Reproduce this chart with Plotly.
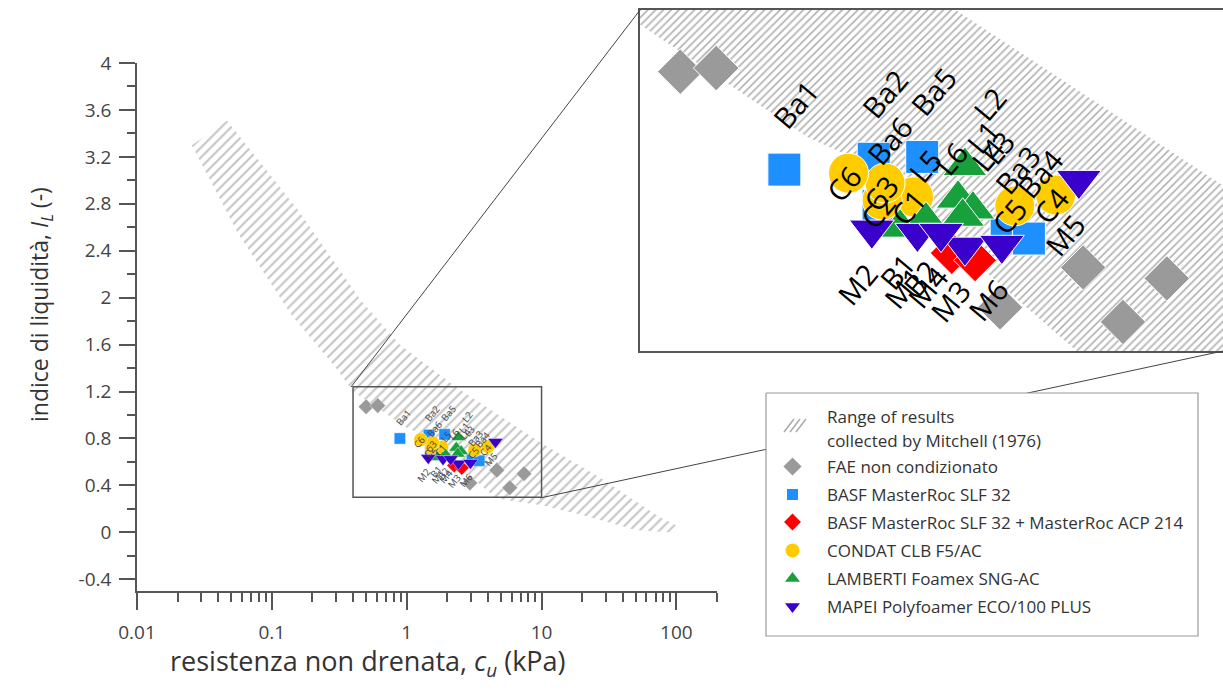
import numpy as np
import plotly.graph_objects as go

W, H = 1223, 692
FONT = "Open Sans"

# ---- Mitchell (1976) range: upper and lower boundaries of the band ----
band_upper_cu = [0.0464, 0.156, 0.456, 0.887, 2.3, 10.0, 26.9, 74.8, 100.0]
band_upper_il = [3.51, 2.75, 1.98, 1.60, 1.24, 0.76, 0.47, 0.13, 0.06]
band_lower_cu = [0.0255, 0.056, 0.14, 0.30, 0.40, 1.01, 1.32, 4.6, 10.0, 19.7, 50.0, 88.8]
band_lower_il = [3.30, 2.55, 1.85, 1.40, 1.20, 0.89, 0.83, 0.29, 0.23, 0.15, 0.02, 0.0]

# ---- test results ----
fae_cu = [0.50, 0.61, 2.94, 4.66, 5.81, 7.41]
fae_il = [1.07, 1.08, 0.42, 0.53, 0.38, 0.50]

basf_names = ["Ba1", "Ba2", "Ba3", "Ba4", "Ba5", "Ba6"]
basf_cu = [0.89, 1.46, 3.05, 3.45, 1.91, 1.50]
basf_il = [0.80, 0.83, 0.62, 0.61, 0.835, 0.70]

acp_names = ["B1", "B2"]
acp_cu = [2.25, 2.56]
acp_il = [0.57, 0.55]

condat_names = ["C1", "C2", "C3", "C4", "C5", "C6"]
condat_cu = [1.82, 1.53, 1.555, 4.0, 3.19, 1.27]
condat_il = [0.725, 0.716, 0.763, 0.73, 0.70, 0.79]

lamb_names = ["L1", "L2", "L3", "L4", "L5", "L6"]
lamb_cu = [2.33, 2.42, 2.53, 2.39, 1.69, 1.95]
lamb_il = [0.72, 0.81, 0.69, 0.67, 0.64, 0.66]

mapei_names = ["M1", "M2", "M3", "M4", "M5", "M6"]
mapei_cu = [1.86, 1.445, 2.42, 2.12, 4.55, 2.97]
mapei_il = [0.625, 0.634, 0.587, 0.625, 0.771, 0.592]

# zoom window drawn on the main chart and enlarged in the inset
zoom_cu = [0.4, 10.0]
zoom_il = [0.3, 1.24]

# axis ticks
x_ticks = [0.01, 0.1, 1, 10, 100]
x_ticktext = ["0.01", "0.1", "1", "10", "100"]
y_ticks = [-0.4, 0.0, 0.4, 0.8, 1.2, 1.6, 2.0, 2.4, 2.8, 3.2, 3.6, 4.0]
y_ticktext = ["-0.4", "0", "0.4", "0.8", "1.2", "1.6", "2", "2.4", "2.8", "3.2", "3.6", "4"]

legend_labels = [
    "FAE non condizionato",
    "BASF MasterRoc SLF 32",
    "BASF MasterRoc SLF 32 + MasterRoc ACP 214",
    "CONDAT CLB F5/AC",
    "LAMBERTI Foamex SNG-AC",
    "MAPEI Polyfoamer ECO/100 PLUS",
]

MAG = 3.07  # inset magnification
INSET_PX_PER_DECADE = 415.6

series = [
    # x, y, names, symbol, color, inset size, label offset (dx, dy) in inset px
    (fae_cu, fae_il, None, "diamond", "#9a9a9a", 35, None),
    (basf_cu, basf_il, basf_names, "square", "#1E8FFF", 33, (11, -65)),
    (acp_cu, acp_il, acp_names, "diamond", "#FF0000", 33, (-55, 18)),
    (condat_cu, condat_il, condat_names, "circle", "#FFCC00", 40, (-5, 10)),
    (lamb_cu, lamb_il, lamb_names, "triangle-up", "#18A03C", 38, (25, -62)),
    (mapei_cu, mapei_il, mapei_names, "triangle-down", "#3A00CC", 39, (-14, 54)),
]


def fx(p):
    return p / W


def fy(p):
    return 1 - p / H


fig = go.Figure()

band_x = band_upper_cu + band_lower_cu[::-1] + [band_upper_cu[0]]
band_y = band_upper_il + band_lower_il[::-1] + [band_upper_il[0]]

# hatched band on the main axes and inside the inset
fig.add_trace(go.Scatter(
    x=band_x, y=band_y, mode="lines", fill="toself", line=dict(width=0),
    fillcolor="rgba(0,0,0,0)",
    fillpattern=dict(shape="/", fgcolor="#8c8c8c", bgcolor="rgba(0,0,0,0)", size=7, solidity=0.3),
    xaxis="x", yaxis="y", showlegend=False, hoverinfo="skip"))
fig.add_trace(go.Scatter(
    x=band_x, y=band_y, mode="lines", fill="toself", line=dict(width=0),
    fillcolor="rgba(0,0,0,0)",
    fillpattern=dict(shape="/", fgcolor="#666666", bgcolor="rgba(0,0,0,0)", size=5.5, solidity=0.3),
    xaxis="x2", yaxis="y2", showlegend=False, hoverinfo="skip"))

annotations = []
for xs, ys, names, sym, col, size, off in series:
    for ax, sc in (("", 1.0 / MAG), ("2", 1.0)):
        fig.add_trace(go.Scatter(
            x=xs, y=ys, mode="markers",
            marker=dict(symbol=sym, color=col, size=size * sc * (1.0 if ax else 1.05),
                        line=dict(color="white", width=1.0 if ax else 0.4)),
            xaxis="x" + ax, yaxis="y" + ax, showlegend=False, hoverinfo="skip"))
        if names:
            for n, xv, yv in zip(names, xs, ys):
                annotations.append(dict(
                    x=np.log10(xv), y=yv, xref="x" + ax, yref="y" + ax,
                    text=n, showarrow=False, textangle=-50,
                    xshift=off[0] * sc, yshift=-off[1] * sc,
                    font=dict(family=FONT, size=29 if ax else 9.5,
                              color="#000000" if ax else "#444444")))

# overlay in pixel space: connector lines, legend frame and legend symbols
ov = dict(xaxis="x3", yaxis="y3", showlegend=False, hoverinfo="skip")
fig.add_trace(go.Scatter(x=[351, 640], y=[387, 10], mode="lines",
                         line=dict(color="#444444", width=1), **ov))
fig.add_trace(go.Scatter(x=[540, 1223], y=[498, 351], mode="lines",
                         line=dict(color="#444444", width=1), **ov))
fig.add_trace(go.Scatter(x=[766, 1198, 1198, 766, 766], y=[393, 393, 636, 636, 393],
                         mode="lines", fill="toself", fillcolor="white",
                         line=dict(color="#9a9a9a", width=1.2), **ov))
for k in range(3):
    fig.add_trace(go.Scatter(x=[784 + 6 * k, 794 + 6 * k], y=[432, 419], mode="lines",
                             line=dict(color="#aaaaaa", width=1.5), **ov))

legend_rows = [466.5, 494.5, 522, 550.5, 578.5, 606.5]
legend_sizes = [14, 11, 13, 14, 13, 13]
for (xs, ys, names, sym, col, size, off), ry, ms in zip(series, legend_rows, legend_sizes):
    fig.add_trace(go.Scatter(x=[792.5], y=[ry], mode="markers",
                             marker=dict(symbol=sym, color=col, size=ms, line=dict(width=0)), **ov))

for txt, ry in zip(["Range of results", "collected by Mitchell (1976)"] + legend_labels,
                   [416, 440] + legend_rows):
    annotations.append(dict(x=fx(825), y=fy(ry), xref="paper", yref="paper", xanchor="left",
                            yanchor="middle", text=txt, showarrow=False,
                            font=dict(family=FONT, size=17, color="#333333")))

# axis titles
annotations.append(dict(x=fx(368), y=fy(662), xref="paper", yref="paper", xanchor="center",
                        yanchor="middle", showarrow=False,
                        text="resistenza non drenata, <i>c</i><sub><i>u</i></sub> (kPa)",
                        font=dict(family=FONT, size=27, color="#333333")))
annotations.append(dict(x=fx(40), y=fy(305), xref="paper", yref="paper", xanchor="center",
                        yanchor="middle", showarrow=False, textangle=-90,
                        text="indice di liquidità, <i>I</i><sub><i>L</i></sub> (-)",
                        font=dict(family=FONT, size=23, color="#333333")))

x_minor = [k * 10.0 ** e for e in range(-2, 2) for k in range(2, 10)] + [200]
y_minor = [round(-0.2 + 0.4 * i, 1) for i in range(11)]

shapes = [dict(type="rect", xref="x", yref="y", x0=zoom_cu[0], x1=zoom_cu[1],
               y0=zoom_il[0], y1=zoom_il[1], line=dict(color="#555555", width=1.5),
               layer="above")]

# the inset runs to the right edge of the figure, two pixels past the zoom window
inset_right = np.log10(zoom_cu[1]) + 2 / INSET_PX_PER_DECADE

fig.update_layout(
    width=W, height=H, margin=dict(l=0, r=0, t=0, b=0, pad=0, autoexpand=False),
    paper_bgcolor="white", plot_bgcolor="rgba(0,0,0,0)",
    showlegend=False, annotations=annotations, shapes=shapes,
    xaxis=dict(type="log", range=[np.log10(0.01), np.log10(200)], domain=[fx(137), fx(717)],
               anchor="y", automargin=False, showline=True, linecolor="#555555", linewidth=1.5,
               ticks="outside", ticklen=17, tickwidth=1.5, tickcolor="#555555",
               tickvals=x_ticks, ticktext=x_ticktext, ticklabelstandoff=6,
               tickfont=dict(family=FONT, size=19, color="#444444"),
               showgrid=False, zeroline=False,
               minor=dict(ticks="outside", ticklen=9, tickwidth=1.5, tickcolor="#555555",
                          tickvals=x_minor, showgrid=False)),
    yaxis=dict(range=[-0.5, 4.0], domain=[fy(591), fy(63)], anchor="x", automargin=False,
               showline=True, linecolor="#555555", linewidth=1.5,
               ticks="outside", ticklen=16, tickwidth=1.5, tickcolor="#555555",
               tickvals=y_ticks, ticktext=y_ticktext, ticklabelstandoff=4,
               tickfont=dict(family=FONT, size=19, color="#444444"),
               showgrid=False, zeroline=False,
               minor=dict(ticks="outside", ticklen=8, tickwidth=1.5, tickcolor="#555555",
                          tickvals=y_minor, showgrid=False)),
    xaxis2=dict(type="log", range=[np.log10(zoom_cu[0]), inset_right],
                domain=[fx(640), 1.0], anchor="y2", automargin=False, showline=True,
                mirror=True, linecolor="#555555", linewidth=2, ticks="",
                showticklabels=False, showgrid=False, zeroline=False),
    yaxis2=dict(range=zoom_il, domain=[fy(351), fy(10)], anchor="x2", automargin=False,
                showline=True, mirror=False, linecolor="#555555", linewidth=2, ticks="",
                showticklabels=False, showgrid=False, zeroline=False),
    xaxis3=dict(range=[0, W], domain=[0, 1], anchor="y3", visible=False, fixedrange=True,
                automargin=False),
    yaxis3=dict(range=[H, 0], domain=[0, 1], anchor="x3", visible=False, fixedrange=True,
                automargin=False),
)

fig.write_html("out.html")
